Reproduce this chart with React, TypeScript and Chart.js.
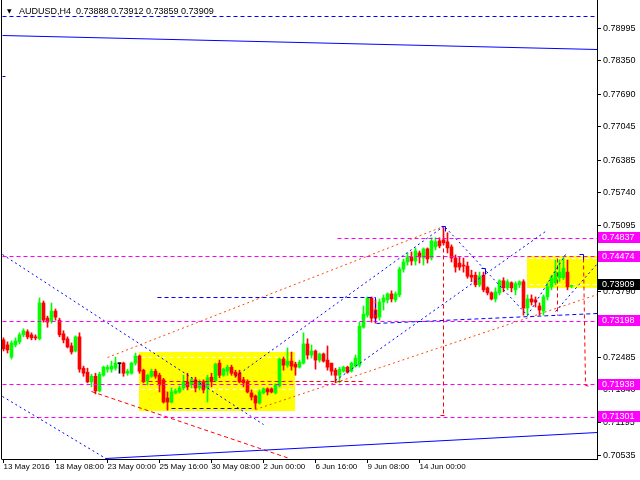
import React, { useEffect, useRef } from "react";
import { Chart, registerables } from "chart.js";
Chart.register(...registerables);

// ---------- data (AUDUSD H4, bar index 0 = first visible bar) ----------
const openP = [0.7283,0.7273,0.7249,0.7273,0.7279,0.7293,0.7299,0.7293,0.7289,0.7285,
 0.7356,0.7326,0.7320,0.7340,0.7322,0.7295,0.7285,0.7271,0.7261,0.7289,
 0.7227,0.7219,0.7200,0.7211,0.7182,0.7213,0.7225,0.7225,0.7227,0.7236,
 0.7237,0.7217,0.7217,0.7237,0.7251,0.7223,0.7202,0.7211,0.7221,0.7213,
 0.7204,0.7168,0.7160,0.7178,0.7180,0.7188,0.7200,0.7194,0.7204,0.7188,
 0.7200,0.7188,0.7209,0.7202,0.7237,0.7213,0.7221,0.7229,0.7219,0.7217,
 0.7204,0.7200,0.7178,0.7172,0.7158,0.7178,0.7186,0.7186,0.7178,0.7192,
 0.7245,0.7233,0.7241,0.7235,0.7229,0.7237,0.7275,0.7253,0.7261,0.7243,
 0.7255,0.7243,0.7237,0.7223,0.7213,0.7221,0.7229,0.7221,0.7231,0.7233,
 0.7308,0.7332,0.7366,0.7342,0.7328,0.7358,0.7362,0.7374,0.7362,0.7372,
 0.7423,0.7437,0.7447,0.7439,0.7455,0.7445,0.7463,0.7445,0.7467,0.7479,
 0.7481,0.7477,0.7467,0.7445,0.7435,0.7431,0.7429,0.7411,0.7411,0.7392,
 0.7411,0.7386,0.7376,0.7364,0.7376,0.7400,0.7386,0.7396,0.7382,0.7392,
 0.7398,0.7346,0.7364,0.7362,0.7350,0.7340,0.7368,0.7388,0.7396,0.7406,
 0.7406,0.7417,0.73888];
const highP = [0.7287,0.7279,0.7281,0.7287,0.7297,0.7305,0.7303,0.7297,0.7293,0.7366,
 0.7360,0.7330,0.7356,0.7344,0.7326,0.7301,0.7289,0.7277,0.7291,0.7297,
 0.7231,0.7227,0.7215,0.7217,0.7219,0.7231,0.7233,0.7241,0.7249,0.7237,
 0.7239,0.7225,0.7239,0.7257,0.7253,0.7225,0.7215,0.7225,0.7225,0.7217,
 0.7207,0.7180,0.7188,0.7186,0.7192,0.7213,0.7217,0.7209,0.7209,0.7204,
 0.7204,0.7213,0.7217,0.7237,0.7243,0.7227,0.7233,0.7233,0.7223,0.7223,
 0.7209,0.7204,0.7184,0.7174,0.7184,0.7188,0.7188,0.7188,0.7196,0.7247,
 0.7249,0.7267,0.7259,0.7239,0.7243,0.7297,0.7285,0.7273,0.7263,0.7257,
 0.7257,0.7271,0.7237,0.7227,0.7229,0.7231,0.7231,0.7239,0.7253,0.7318,
 0.7350,0.7368,0.7368,0.7362,0.7364,0.7372,0.7376,0.7380,0.7378,0.7427,
 0.7443,0.7455,0.7457,0.7465,0.7459,0.7465,0.7465,0.7485,0.7485,0.7485,
 0.7505,0.7495,0.7471,0.7451,0.7447,0.7445,0.7437,0.7421,0.7417,0.7417,
 0.7417,0.7388,0.7378,0.7386,0.7402,0.7406,0.7402,0.7398,0.7398,0.7400,
 0.7402,0.7372,0.7372,0.7368,0.7356,0.7372,0.7396,0.7411,0.7441,0.7441,
 0.7447,0.7441,0.73912];
const lowP = [0.7261,0.7257,0.7245,0.7269,0.7275,0.7289,0.7285,0.7283,0.7283,0.7283,
 0.7318,0.7308,0.7316,0.7322,0.7289,0.7277,0.7267,0.7255,0.7259,0.7219,
 0.7211,0.7198,0.7190,0.7176,0.7180,0.7211,0.7219,0.7219,0.7223,0.7217,
 0.7211,0.7213,0.7215,0.7233,0.7217,0.7198,0.7194,0.7209,0.7207,0.7180,
 0.7158,0.7144,0.7158,0.7176,0.7178,0.7184,0.7184,0.7188,0.7180,0.7184,
 0.7178,0.7160,0.7190,0.7200,0.7208,0.7211,0.7213,0.7213,0.7209,0.7198,
 0.7190,0.7178,0.7164,0.7146,0.7156,0.7176,0.7174,0.7178,0.7176,0.7190,
 0.7223,0.7229,0.7223,0.7213,0.7227,0.7235,0.7245,0.7247,0.7225,0.7239,
 0.7239,0.7223,0.7213,0.7198,0.7198,0.7219,0.7217,0.7219,0.7229,0.7229,
 0.7306,0.7328,0.7318,0.7316,0.7322,0.7342,0.7356,0.7358,0.7358,0.7368,
 0.7417,0.7431,0.7431,0.7431,0.7435,0.7431,0.7435,0.7441,0.7461,0.7465,
 0.7471,0.7455,0.7437,0.7417,0.7421,0.7417,0.7405,0.7398,0.7388,0.7388,
 0.7378,0.7372,0.7362,0.7358,0.7372,0.7378,0.7382,0.7378,0.7372,0.7386,
 0.7332,0.7332,0.7352,0.7348,0.7332,0.7332,0.7362,0.7382,0.7392,0.7398,
 0.7402,0.7382,0.73859];
const closeP = [0.7265,0.7263,0.7277,0.7281,0.7293,0.7301,0.7289,0.7287,0.7287,0.7356,
 0.7322,0.7318,0.7340,0.7328,0.7293,0.7283,0.7269,0.7259,0.7289,0.7225,
 0.7217,0.7200,0.7211,0.7182,0.7215,0.7229,0.7229,0.7231,0.7237,0.7236,
 0.7217,0.7221,0.7237,0.7251,0.7221,0.7202,0.7213,0.7221,0.7211,0.7194,
 0.7160,0.7160,0.7180,0.7182,0.7188,0.7200,0.7190,0.7204,0.7188,0.7200,
 0.7184,0.7208,0.7200,0.7235,0.7213,0.7225,0.7229,0.7217,0.7213,0.7200,
 0.7198,0.7180,0.7170,0.7158,0.7180,0.7186,0.7180,0.7180,0.7194,0.7245,
 0.7233,0.7241,0.7231,0.7229,0.7239,0.7275,0.7253,0.7261,0.7243,0.7255,
 0.7241,0.7229,0.7221,0.7213,0.7225,0.7229,0.7219,0.7237,0.7247,0.7310,
 0.7334,0.7366,0.7326,0.7326,0.7358,0.7366,0.7374,0.7364,0.7374,0.7423,
 0.7437,0.7447,0.7439,0.7459,0.7447,0.7463,0.7443,0.7479,0.7477,0.7469,
 0.7475,0.7465,0.7445,0.7427,0.7427,0.7429,0.7409,0.7407,0.7392,0.7409,
 0.7382,0.7376,0.7364,0.7378,0.7400,0.7386,0.7398,0.7386,0.7394,0.7398,
 0.7346,0.7364,0.7358,0.7358,0.7342,0.7368,0.7388,0.7406,0.7417,0.7417,
 0.7425,0.7388,0.73909];

const xTickIdx = [0, 13, 26, 39, 52, 65, 78, 91, 104];
const xTickLabels = ["13 May 2016", "18 May 08:00", "23 May 00:00", "25 May 16:00", "30 May 08:00",
  "2 Jun 00:00", "6 Jun 16:00", "9 Jun 08:00", "14 Jun 00:00"];
const yTicks = [0.78995, 0.78350, 0.77690, 0.77045, 0.76385, 0.75740, 0.75095, 0.74450,
  0.73790, 0.73145, 0.72485, 0.71840, 0.71195, 0.70535];

const titleText = "AUDUSD,H4  0.73888 0.73912 0.73859 0.73909";
const currentPrice = 0.73909;
const levelPrices = [0.74837, 0.74474, 0.73198, 0.71938, 0.71301];
const levelStartIdx = [83.6, -0.375, -0.375, -0.375, -0.375];

// view range (bar index / price)
const X_MIN = -0.375, X_MAX = 148.375;
const Y_MIN = 0.70473, Y_MAX = 0.79555;

// drawn objects, as [bar index, price] points
const boxes = [[33.9, 0.72596, 72.9, 0.71423], [130.9, 0.74496, 148.375, 0.73863]];
const boxInnerLevels = [[33.9, 72.9, 0.72485], [33.9, 72.9, 0.71840], [130.9, 148.375, 0.74440], [130.9, 148.375, 0.73916]];
const blueSolid = [
  [[-0.375, 0.78843], [148.375, 0.78566]],
  [[25.6, 0.70483], [148.375, 0.70998]],
  [[-0.375, 0.78051], [0.6, 0.78051]],
  [[109.4, 0.75083], [110.6, 0.75083], [110.6, 0.74984]],
  [[119.6, 0.74252], [120.6, 0.74252], [120.6, 0.74114]],
  [[144.1, 0.74529], [145.1, 0.74529], [145.1, 0.74411]],
];
const blueDashed = [
  [[-0.375, 0.79219], [148.375, 0.79219]],
  [[42.1, 0.71472], [62.1, 0.71472]],
  [[38.4, 0.73669], [92.9, 0.73669], [92.9, 0.73154], [148.375, 0.73352]],
];
const blueDotted = [
  [[-0.375, 0.74510], [65.1, 0.71146]],
  [[-0.375, 0.71706], [26.1, 0.70473]],
  [[58.1, 0.72096], [109.9, 0.75064]],
  [[83.1, 0.72017], [135.4, 0.74965]],
  [[110.6, 0.75044], [130.9, 0.73303]],
  [[130.9, 0.73303], [140.4, 0.74529]],
  [[138.1, 0.73382], [148.375, 0.74351]],
];
const redDashed = [
  [[34.6, 0.72011], [89.9, 0.72011]],
  [[110, 0.75045], [110, 0.71342]],
  [[109.2, 0.71342], [110.9, 0.71342]],
  [[144.9, 0.74450], [145.6, 0.71918], [146.9, 0.71898]],
  [[138.4, 0.74450], [138.4, 0.73303]],
  [[22.1, 0.71799], [71.6, 0.70483]],
];
const orangeDotted = [
  [[26.1, 0.72491], [109.9, 0.75064]],
  [[62.9, 0.71443], [148.375, 0.73718]],
];

// ---------- styles ----------
const UP = "#00ff00", DOWN = "#ff0000", DOJI = "#000000";
const BLUE = "#0000ff", MAGENTA = "#ff00ff", RED = "#ff0000", ORANGE = "#ff4500", YELLOW = "#ffff00";
const FONT = "'Liberation Sans', Arial, sans-serif";

const candleColor = openP.map((o, i) => (closeP[i] > o ? UP : closeP[i] < o ? DOWN : DOJI));

function path(ctx: any, xs: any, ys: any, pts: number[][], color: string, dash: number[]) {
  ctx.beginPath();
  pts.forEach(([i, p], k) => {
    const px = Math.floor(xs.getPixelForValue(i)) + 0.5;
    const py = Math.floor(ys.getPixelForValue(p)) + 0.5;
    if (k === 0) ctx.moveTo(px, py); else ctx.lineTo(px, py);
  });
  ctx.setLineDash(dash);
  ctx.lineDashOffset = 0;
  ctx.strokeStyle = color;
  ctx.lineWidth = 1;
  ctx.stroke();
}

const annotations = {
  id: "annotations",
  beforeDatasetsDraw(chart: any) {
    const { ctx, chartArea: a, scales } = chart;
    const xs = scales.x, ys = scales.y;
    ctx.save();
    ctx.beginPath();
    ctx.rect(a.left, a.top, a.right - a.left, a.bottom - a.top);
    ctx.clip();
    boxes.forEach(([i1, p1, i2, p2]) => {
      const x1 = Math.round(xs.getPixelForValue(i1)), x2 = Math.round(xs.getPixelForValue(i2));
      const y1 = Math.round(ys.getPixelForValue(p1)), y2 = Math.round(ys.getPixelForValue(p2));
      ctx.fillStyle = YELLOW;
      ctx.fillRect(x1, y1, x2 - x1, y2 - y1);
    });
    boxInnerLevels.forEach(([i1, i2, p]) => path(ctx, xs, ys, [[i1 + 0.5, p], [i2, p]], "#ffffff", [4, 3]));
    ctx.restore();
  },
  afterDatasetsDraw(chart: any) {
    const { ctx, chartArea: a, scales } = chart;
    const xs = scales.x, ys = scales.y;
    ctx.save();
    ctx.beginPath();
    ctx.rect(a.left, a.top, a.right - a.left, a.bottom - a.top);
    ctx.clip();
    levelPrices.forEach((p, k) => path(ctx, xs, ys, [[levelStartIdx[k], p], [X_MAX, p]], MAGENTA, [4, 3]));
    orangeDotted.forEach((pts) => path(ctx, xs, ys, pts, ORANGE, [2, 3]));
    redDashed.forEach((pts) => path(ctx, xs, ys, pts, RED, [4, 3]));
    blueDotted.forEach((pts) => path(ctx, xs, ys, pts, BLUE, [2, 3]));
    blueDashed.forEach((pts) => path(ctx, xs, ys, pts, BLUE, [4, 3]));
    blueSolid.forEach((pts) => path(ctx, xs, ys, pts, BLUE, []));
    ctx.restore();
  },
  afterDraw(chart: any) {
    const { ctx, chartArea: a, scales } = chart;
    const ys = scales.y;
    ctx.save();
    // left frame
    ctx.strokeStyle = "#000";
    ctx.lineWidth = 1;
    ctx.setLineDash([]);
    ctx.beginPath();
    ctx.moveTo(a.left - 0.5, a.top);
    ctx.lineTo(a.left - 0.5, a.bottom + 0.5);
    ctx.stroke();
    // title
    ctx.fillStyle = "#000";
    ctx.textBaseline = "alphabetic";
    ctx.textAlign = "left";
    ctx.font = "6px 'DejaVu Sans'";
    ctx.fillText("▼", 7, 12.5);
    ctx.font = "9px " + FONT;
    ctx.fillText(titleText, 19, 13.5);
    // price tags on the axis
    const tag = (p: number, bg: string) => {
      const y = Math.round(ys.getPixelForValue(p));
      ctx.fillStyle = bg;
      ctx.fillRect(598, y - 6, 42, 11);
      ctx.fillStyle = "#ffffff";
      ctx.font = "9px " + FONT;
      ctx.textBaseline = "middle";
      ctx.fillText(p.toFixed(5), 602, y);
    };
    levelPrices.forEach((p) => tag(p, MAGENTA));
    tag(currentPrice, "#000000");
    ctx.restore();
  },
};

export default function App() {
  const ref = useRef<HTMLCanvasElement>(null);
  useEffect(() => {
    const idx = openP.map((_, i) => i);
    const chart = new Chart(ref.current as HTMLCanvasElement, {
      type: "bar",
      data: {
        datasets: [
          {
            label: "body",
            data: idx.map((i) => ({ x: i, y: [openP[i], closeP[i]] })) as any,
            backgroundColor: candleColor,
            borderWidth: 0,
            barThickness: 3,
            minBarLength: 1,
            grouped: false,
            order: 0,
          } as any,
          {
            label: "wick",
            data: idx.map((i) => ({ x: i, y: [lowP[i], highP[i]] })) as any,
            backgroundColor: candleColor,
            borderWidth: 0,
            barThickness: 1,
            minBarLength: 1,
            grouped: false,
            order: 1,
          } as any,
        ],
      },
      options: {
        responsive: false,
        devicePixelRatio: 1,
        animation: false,
        events: [],
        layout: { padding: { left: 2, top: 0, right: 0, bottom: 0 } },
        plugins: { legend: { display: false }, tooltip: { enabled: false }, title: { display: false } },
        scales: {
          x: {
            type: "linear",
            position: "bottom",
            min: X_MIN,
            max: X_MAX,
            offset: false,
            grid: { display: true, drawOnChartArea: false, drawTicks: true, tickLength: 4, color: "#000", offset: false },
            border: { display: true, color: "#000", width: 1 },
            ticks: {
              autoSkip: false,
              maxRotation: 0,
              minRotation: 0,
              align: "start",
              padding: -1,
              color: "#000",
              font: { family: FONT, size: 8 },
              callback: (v: any) => {
                const k = xTickIdx.indexOf(Number(v));
                return k >= 0 ? xTickLabels[k] : "";
              },
            },
            afterBuildTicks: (s: any) => {
              s.ticks = xTickIdx.map((v) => ({ value: v }));
            },
            afterFit: (s: any) => {
              s.height = 21;
              s.paddingLeft = 0; s.paddingRight = 0; s.paddingTop = 0; s.paddingBottom = 0;
            },
          } as any,
          y: {
            type: "linear",
            position: "right",
            min: Y_MIN,
            max: Y_MAX,
            beginAtZero: false,
            grid: { display: true, drawOnChartArea: false, drawTicks: true, tickLength: 4, color: "#000" },
            border: { display: true, color: "#000", width: 1 },
            ticks: {
              autoSkip: false,
              padding: 2,
              color: "#000",
              font: { family: FONT, size: 9 },
              callback: (v: any) => Number(v).toFixed(5),
            },
            afterBuildTicks: (s: any) => {
              s.ticks = yTicks.map((v) => ({ value: v }));
            },
            afterFit: (s: any) => {
              s.width = 43;
              s.paddingLeft = 0; s.paddingRight = 0; s.paddingTop = 0; s.paddingBottom = 0;
            },
          } as any,
        },
      },
      plugins: [annotations],
    } as any);
    return () => chart.destroy();
  }, []);
  return (
    <div style={{ position: "fixed", left: 0, top: 0, width: 640, height: 480, background: "#ffffff" }}>
      <canvas ref={ref} width={640} height={480} style={{ display: "block", width: 640, height: 480 }} />
    </div>
  );
}
